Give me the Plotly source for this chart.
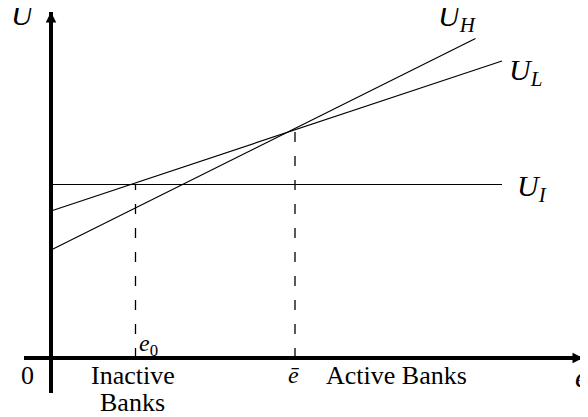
import plotly.graph_objects as go

# valores (eixo e horizontal, U vertical)
e_UH = [0.0, 8.49]
U_H = [2.16, 6.39]
e_UL = [0.0, 9.02]
U_L = [2.94, 5.94]
e_UI = [0.0, 9.02]
U_I = [3.47, 3.47]

e0 = 1.69
e_bar = 4.88
U_at_e0 = 3.47
U_at_ebar = 4.53

x_range = [-0.54, 10.64]
y_range = [-0.7, 6.92]

serif = "Liberation Serif"
black = "#000000"

fig = go.Figure()

for xs, ys in [(e_UH, U_H), (e_UL, U_L), (e_UI, U_I)]:
    fig.add_trace(go.Scatter(x=xs, y=ys, mode="lines",
                             line=dict(color=black, width=1.2),
                             hoverinfo="skip", showlegend=False))

# linhas tracejadas verticais
for xv, yv in [(e0, U_at_e0), (e_bar, U_at_ebar)]:
    fig.add_trace(go.Scatter(x=[xv, xv], y=[0, yv], mode="lines",
                             line=dict(color=black, width=1.3, dash="10px,14px"),
                             hoverinfo="skip", showlegend=False))

annotations = [
    # setas dos eixos
    dict(x=x_range[1], y=0, ax=x_range[1] - 0.3, ay=0, xref="x", yref="y",
         axref="x", ayref="y", text="", showarrow=True, arrowhead=2,
         arrowsize=0.7, arrowwidth=3, arrowcolor=black),
    dict(x=0, y=y_range[1], ax=0, ay=y_range[1] - 0.3, xref="x", yref="y",
         axref="x", ayref="y", text="", showarrow=True, arrowhead=2,
         arrowsize=0.7, arrowwidth=3, arrowcolor=black),
]


def to_paper(x, y):
    # plotly esconde anotações fora do range dos eixos -> usar paper
    px = (x - x_range[0]) / (x_range[1] - x_range[0])
    py = (y - y_range[0]) / (y_range[1] - y_range[0])
    return px, py


big = 30
small = 26
labels = [
    ("<i>U</i>", -0.56, 6.86, big),
    ("<i>U</i><sub><i>H</i></sub>", 8.12, 6.8, big),
    ("<i>U</i><sub><i>L</i></sub>", 9.48, 5.72, big),
    ("<i>U</i><sub><i>I</i></sub>", 9.62, 3.4, big),
    ("<i>e</i>", 10.6, -0.37, big),
    ("0", -0.48, -0.34, small),
    ("<i>e</i><sub>0</sub>", 1.95, 0.26, 24),
    ("<i>ē</i>", 4.84, -0.34, 24),
    ("Active Banks", 6.9, -0.34, small),
    ("Inactive", 1.64, -0.34, small),
    ("Banks", 1.64, -0.88, small),
]
for txt, x, y, size in labels:
    px, py = to_paper(x, y)
    annotations.append(dict(x=px, y=py, xref="paper", yref="paper", text=txt,
                            showarrow=False, xanchor="center", yanchor="middle",
                            font=dict(family=serif, size=size, color=black)))

# a página tem 8px de margem no body: figura 8px menor e deslocada
fig.update_layout(
    width=580, height=409,
    margin=dict(l=16, r=5, t=4, b=24),
    paper_bgcolor="white", plot_bgcolor="white",
    annotations=annotations,
    xaxis=dict(range=x_range, showgrid=False, showticklabels=False,
               zeroline=True, zerolinecolor=black, zerolinewidth=3.5,
               showline=False, ticks=""),
    yaxis=dict(range=y_range, showgrid=False, showticklabels=False,
               zeroline=True, zerolinecolor=black, zerolinewidth=3.5,
               showline=False, ticks=""),
)

fig.write_html("out.html")
